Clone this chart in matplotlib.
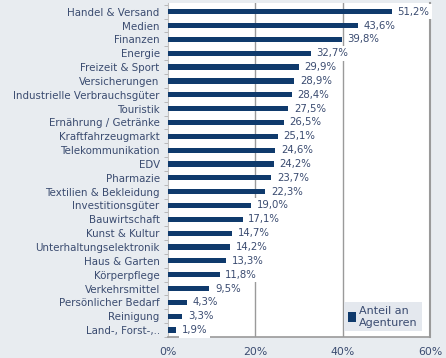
import numpy as np
import matplotlib.pyplot as plt

# categories from top to bottom, share of agencies in percent
categories = ["Handel & Versand", "Medien", "Finanzen", "Energie",
              "Freizeit & Sport", "Versicherungen",
              "Industrielle Verbrauchsgüter", "Touristik",
              "Ernährung / Getränke", "Kraftfahrzeugmarkt",
              "Telekommunikation", "EDV", "Pharmazie",
              "Textilien & Bekleidung", "Investitionsgüter", "Bauwirtschaft",
              "Kunst & Kultur", "Unterhaltungselektronik", "Haus & Garten",
              "Körperpflege", "Verkehrsmittel", "Persönlicher Bedarf",
              "Reinigung", "Land-, Forst-,.."]
values = [51.2, 43.6, 39.8, 32.7, 29.9, 28.9, 28.4, 27.5, 26.5, 25.1, 24.6,
          24.2, 23.7, 22.3, 19.0, 17.1, 14.7, 14.2, 13.3, 11.8, 9.5, 4.3,
          3.3, 1.9]
xticks = [0, 20, 40, 60]
series_name = "Anteil an\nAgenturen"

bg = "#e8ecf0"
bar_col = "#0f3a6c"
txt_col = "#3a4b70"
grid_col = "#9a9a9a"

fig = plt.figure(figsize=(4.46, 3.58), dpi=100, facecolor=bg)
ax = fig.add_axes([0.3767, 0.0587, 0.5874, 0.9329])
ax.set_facecolor("white")

n = len(categories)
y = np.arange(n)[::-1]
ax.barh(y, values, height=0.38, color=bar_col, label=series_name, zorder=3)

for yi, v in zip(y, values):
    ax.text(v + 1.3, yi, f"{v:.1f}%".replace(".", ","), va="center",
            ha="left", fontsize=7.3, color=txt_col, zorder=4,
            bbox=dict(facecolor="white", edgecolor="none", pad=2.0))

ax.set_xlim(0, 60)
ax.set_ylim(-0.5, n - 0.37)
ax.set_xticks(xticks)
ax.set_xticklabels([f"{t}%" for t in xticks], fontsize=7.8, color=txt_col)
ax.set_yticks(y)
ax.set_yticklabels(categories, fontsize=7.4, color=txt_col)
ax.set_yticks(np.arange(n + 1) - 0.5, minor=True)
ax.tick_params(axis="y", which="major", length=0, pad=6)
ax.tick_params(axis="y", which="minor", length=3, color="#b0b0b0")
ax.tick_params(axis="x", length=0, pad=7)

for t in xticks[1:3]:
    ax.axvline(t, color=grid_col, lw=1.0, zorder=1)

ax.spines["top"].set_visible(False)
ax.spines["left"].set_color("#c0c0c0")
ax.spines["right"].set_color(grid_col)
ax.spines["right"].set_linewidth(1.5)
ax.spines["bottom"].set_color(grid_col)
ax.spines["bottom"].set_linewidth(1.2)

leg = ax.legend(loc="lower right", bbox_to_anchor=(0.99, 0.0),
                fontsize=8, frameon=True, fancybox=False,
                handlelength=0.7, handleheight=0.9, handletextpad=0.3,
                borderpad=0.35, labelcolor=txt_col)
leg.get_frame().set_facecolor("#e4e8ee")
leg.get_frame().set_edgecolor("none")
leg.get_frame().set_alpha(1)
leg.set_zorder(5)

fig.savefig("out.png", dpi=100, facecolor=bg)
